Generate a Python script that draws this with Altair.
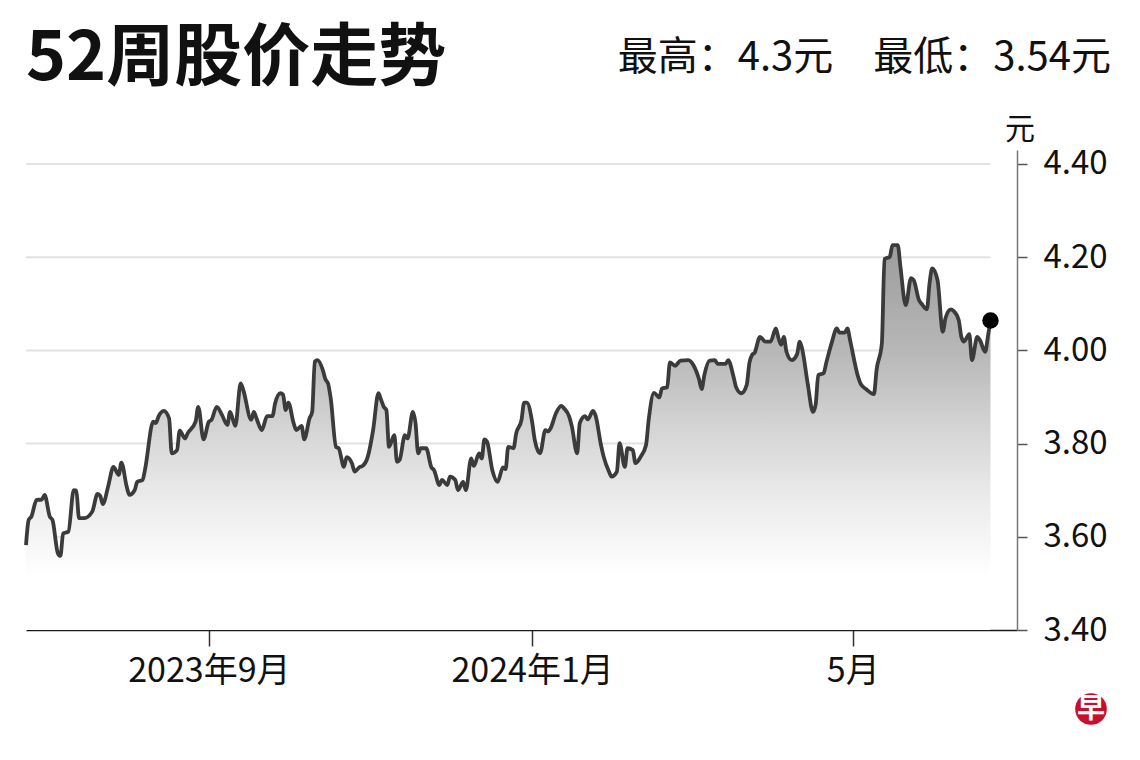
import altair as alt
import pandas as pd

# ---- data ----
start_date = "2023-06-24"          # first trading day shown
end_of_axis = "2024-07-02"         # right end of the time axis

day_offsets = [
    0, 1, 2, 4, 6, 7, 9, 10, 12, 13,
    14, 16, 18, 19, 20, 22, 25, 27, 28, 29,
    31, 33, 35, 36, 38, 39, 41, 42, 44, 45,
    48, 49, 50, 52, 54, 55, 57, 58, 60, 61,
    64, 65, 67, 69, 70, 72, 74, 76, 77, 79,
    81, 82, 85, 86, 87, 89, 91, 93, 94, 96,
    97, 98, 99, 101, 102, 104, 105, 107, 108, 109,
    110, 112, 113, 114, 115, 117, 118, 120, 121, 123,
    124, 126, 127, 129, 131, 133, 134, 135, 136, 137,
    139, 140, 141, 143, 144, 146, 147, 148, 149, 151,
    153, 154, 156, 157, 159, 160, 162, 163, 165, 166,
    168, 169, 171, 172, 173, 174, 176, 178, 180, 181,
    182, 184, 185, 187, 188, 189, 191, 192, 194, 196,
    197, 198, 200, 202, 203, 205, 206, 208, 209, 211,
    212, 214, 215, 217, 218, 220, 221, 223, 224, 226,
    227, 229, 230, 232, 234, 235, 237, 239, 240, 242,
    243, 245, 247, 250, 252, 254, 255, 256, 258, 260,
    261, 264, 265, 267, 268, 270, 272, 273, 274, 275,
    277, 279, 281, 283, 284, 285, 286, 287, 289, 291,
    292, 293, 295, 297, 298, 299, 301, 302, 304, 306,
    307, 309, 310, 311, 314, 315, 317, 320, 321, 323,
    324, 326, 327, 329, 330, 332, 334, 335, 337, 338,
    340, 341, 342, 344, 346, 347, 349, 350, 352, 353,
    354, 356, 357, 359, 360, 362, 363, 364,
]

prices = [
    3.582, 3.636, 3.643, 3.679, 3.680, 3.690, 3.643, 3.636, 3.565, 3.559,
    3.607, 3.611, 3.700, 3.699, 3.640, 3.640, 3.654, 3.692, 3.688, 3.670,
    3.708, 3.750, 3.733, 3.759, 3.708, 3.690, 3.700, 3.718, 3.722, 3.747,
    3.847, 3.844, 3.858, 3.870, 3.854, 3.779, 3.786, 3.828, 3.811, 3.822,
    3.847, 3.879, 3.809, 3.847, 3.851, 3.879, 3.861, 3.840, 3.868, 3.838,
    3.929, 3.915, 3.851, 3.868, 3.854, 3.829, 3.859, 3.859, 3.886, 3.908,
    3.905, 3.872, 3.888, 3.844, 3.829, 3.838, 3.809, 3.854, 3.868, 3.976,
    3.979, 3.958, 3.938, 3.929, 3.897, 3.793, 3.790, 3.750, 3.771, 3.758,
    3.740, 3.750, 3.752, 3.772, 3.829, 3.908, 3.894, 3.879, 3.872, 3.793,
    3.818, 3.761, 3.765, 3.818, 3.811, 3.868, 3.844, 3.779, 3.790, 3.790,
    3.749, 3.743, 3.711, 3.722, 3.711, 3.729, 3.722, 3.700, 3.718, 3.700,
    3.768, 3.752, 3.779, 3.768, 3.809, 3.804, 3.743, 3.718, 3.749, 3.745,
    3.793, 3.790, 3.822, 3.851, 3.888, 3.888, 3.847, 3.808, 3.779, 3.829,
    3.826, 3.833, 3.865, 3.881, 3.876, 3.858, 3.837, 3.779, 3.844, 3.859,
    3.852, 3.870, 3.859, 3.797, 3.772, 3.740, 3.729, 3.740, 3.801, 3.750,
    3.790, 3.786, 3.758, 3.772, 3.797, 3.851, 3.909, 3.899, 3.918, 3.921,
    3.974, 3.967, 3.978, 3.979, 3.967, 3.938, 3.917, 3.947, 3.978, 3.979,
    3.971, 3.971, 3.979, 3.944, 3.921, 3.908, 3.926, 3.973, 3.990, 3.995,
    4.029, 4.019, 4.019, 4.047, 4.026, 4.012, 4.029, 3.997, 3.979, 3.992,
    4.019, 4.001, 3.929, 3.868, 3.883, 3.947, 3.951, 3.973, 4.015, 4.047,
    4.038, 4.038, 4.047, 4.022, 3.944, 3.928, 3.917, 3.906, 3.958, 4.015,
    4.196, 4.201, 4.226, 4.226, 4.180, 4.097, 4.155, 4.151, 4.108, 4.100,
    4.088, 4.144, 4.176, 4.151, 4.040, 4.069, 4.088, 4.085, 4.065, 4.029,
    4.019, 4.035, 3.979, 4.029, 4.022, 3.997, 4.029, 4.064,
]
assert len(day_offsets) == len(prices)

y_ticks = [3.40, 3.60, 3.80, 4.00, 4.20, 4.40]
grid_values = [3.60, 3.80, 4.00, 4.20, 4.40]
x_tick_dates = [(2023, 9, 1), (2024, 1, 1), (2024, 5, 1)]
x_tick_labels = ["2023年9月", "2024年1月", "5月"]

title_text = "52周股价走势"
stats_text = "最高：4.3元\u3000最低：3.54元"
unit_text = "元"
logo_text = "早"

FONT = "Noto Sans CJK SC"

# ---- tables ----
dates = pd.Timestamp(start_date) + pd.to_timedelta(day_offsets, unit="D")
df = pd.DataFrame({"date": dates, "price": prices})
last = df.tail(1)
grid_df = pd.DataFrame({"y": grid_values,
                        "x0": [df["date"].iloc[0]] * len(grid_values),
                        "x1": [df["date"].iloc[-1]] * len(grid_values)})

label_expr = " : ".join(
    f"(year(datum.value)=={y} && month(datum.value)=={m-1}) ? '{lab}'"
    for (y, m, d), lab in zip(x_tick_dates, x_tick_labels)
) + " : ''"

x_scale = alt.Scale(domain=[alt.DateTime(year=2023, month=6, date=24),
                            alt.DateTime(year=2024, month=7, date=2)])
y_scale = alt.Scale(domain=[3.40, 4.43], nice=False, zero=False)

x_axis = alt.Axis(
    values=[alt.DateTime(year=y, month=m, date=d) for (y, m, d) in x_tick_dates],
    labelExpr=label_expr, title=None, grid=False,
    domainColor="#1a1a1a", domainWidth=1.5,
    tickColor="#333333", tickWidth=1.5, tickSize=16,
    labelFont=FONT, labelFontSize=34, labelColor="#111111", labelPadding=8,
)
y_axis = alt.Axis(
    orient="right", values=y_ticks, format=".2f", title=None, grid=False,
    domainColor="#777777", domainWidth=1.5,
    tickColor="#555555", tickWidth=1.5, tickSize=10,
    labelFont=FONT, labelFontSize=33, labelColor="#111111", labelPadding=16,
)

base = alt.Chart(df)

grid = alt.Chart(grid_df).mark_rule(color="#e2e2e2", strokeWidth=2).encode(
    x=alt.X("x0:T", scale=x_scale, axis=x_axis),
    x2="x1:T",
    y=alt.Y("y:Q", scale=y_scale, axis=y_axis),
)

gradient = alt.Gradient(
    gradient="linear", x1=1, x2=1, y1=0, y2=1,
    stops=[
        alt.GradientStop(color="#9c9c9c", offset=0),
        alt.GradientStop(color="#b8b8b8", offset=0.28),
        alt.GradientStop(color="#d2d2d2", offset=0.46),
        alt.GradientStop(color="#e9e9e9", offset=0.64),
        alt.GradientStop(color="#ffffff", offset=0.86),
        alt.GradientStop(color="#ffffff", offset=1),
    ],
)

area = base.mark_area(fill=gradient, interpolate="monotone").encode(
    x=alt.X("date:T", scale=x_scale),
    y=alt.Y("price:Q", scale=y_scale),
    y2=alt.datum(3.40),
)

line = base.mark_line(color="#3b3b3b", strokeWidth=3.8,
                      interpolate="monotone").encode(
    x=alt.X("date:T", scale=x_scale),
    y=alt.Y("price:Q", scale=y_scale),
)

dot = alt.Chart(last).mark_circle(color="#000000", opacity=1, size=270).encode(
    x=alt.X("date:T", scale=x_scale),
    y=alt.Y("price:Q", scale=y_scale),
)

def label(text, **kw):
    return alt.Chart(pd.DataFrame({"t": [text]})).mark_text(
        font=FONT, **kw).encode(text="t:N")

title_mark = label(title_text, fontSize=68, fontWeight="bold", align="left",
                   baseline="middle", color="#111111").encode(
    x=alt.value(0), y=alt.value(-90))
stats_mark = label(stats_text, fontSize=40, align="right", baseline="middle",
                   color="#111111").encode(x=alt.value(1085), y=alt.value(-92))
unit_mark = label(unit_text, fontSize=30, align="center", baseline="middle",
                  color="#111111").encode(x=alt.value(994), y=alt.value(-20))
logo_circle = alt.Chart(pd.DataFrame({"t": [logo_text]})).mark_circle(
    color="#c8102e", opacity=1, size=1000).encode(
    x=alt.value(1065), y=alt.value(559))
logo_mark = label(logo_text, fontSize=28, fontWeight="bold", align="center",
                  baseline="middle", color="#ffffff").encode(
    x=alt.value(1065), y=alt.value(560))

chart = alt.layer(
    grid, area, line, dot, title_mark, stats_mark, unit_mark,
    logo_circle, logo_mark,
).properties(
    width=991, height=480,
    autosize=alt.AutoSizeParams(type="none"),
    padding={"left": 18, "top": 142, "right": 115, "bottom": 110},
    background="#ffffff",
).configure_view(stroke=None)

chart.save("out.html", embed_options={"renderer": "svg", "actions": False})
